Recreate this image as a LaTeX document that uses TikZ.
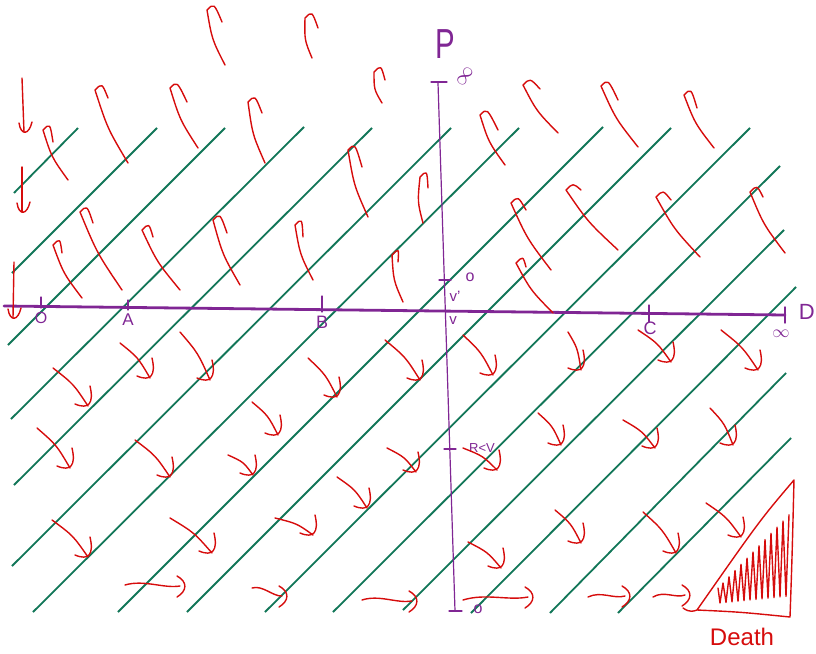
\documentclass[tikz,border=0pt]{standalone}
\usepackage{fontspec}
\setmainfont{Liberation Sans}
\usetikzlibrary{calc}
\definecolor{hred}{RGB}{214,12,12}
\definecolor{hgreen}{RGB}{18,118,88}
\definecolor{hpurp}{RGB}{128,38,148}
\newcommand\uarr[3]{\draw[arr] (#1) .. controls ($(#1)!0.5!(#2)+(-4,2)$) .. (#2) .. controls +(7,-7) .. (#3);}
\newcommand\darr[2]{\draw[arr] (#1) .. controls ($(#1)!0.5!(#2)+(3,-3)$) .. (#2);\draw[arr] ($(#2)+(2,-20)$) .. controls ($(#2)+(6,-3)$) and ($(#2)+(1,4)$) .. ($(#2)+(-13,-2)$);}
\newcommand\varr[2]{\draw[arr] (#1) -- (#2);\draw[arr] ($(#2)+(-5,-9)$) .. controls ($(#2)+(-3,4)$) and ($(#2)+(5,3)$) .. ($(#2)+(8,-10)$);}
\newcommand\harr[2]{\draw[arr] (#1) .. controls ($(#1)!0.35!(#2)+(0,-6)$) and ($(#1)!0.7!(#2)+(0,3)$) .. (#2);\draw[arr] ($(#2)+(-3,-10)$) .. controls ($(#2)+(8,-4)$) and ($(#2)+(7,5)$) .. ($(#2)+(-3,11)$);}
\begin{document}
\begin{tikzpicture}[x=1pt,y=-1pt,
  arr/.style={draw=hred,line width=1.4pt,line cap=round,line join=round},
  gl/.style={draw=hgreen,line width=1.8pt},
  ax/.style={draw=hpurp,line cap=round},
  lab/.style={text=hpurp,inner sep=0pt}]
\useasboundingbox (0,0) rectangle (816,653);
% green diagonal lines
\foreach \xa/\ya/\xb/\yb in {14/193/78/128, 12/273/157/128, 8/345/225/128, 11/419/304/127,
  14/485/372/128, 12/566/451/128, 33/612/519/128, 118/612/603/127, 187/612/671/128,
  265/612/750/128, 333/612/780/166, 403/610/784/230, 471/613/796/287, 550/613/786/373, 618/613/791/438}
  \draw[gl] (\xa,\ya) -- (\xb,\yb);
% vertical axis
\draw[ax,line width=1.2pt] (438,83) -- (455,611);
\draw[ax,line width=1.2pt] (431,82) -- (447,82);
\draw[ax,line width=1.2pt] (439,280) -- (451,280);
\draw[ax,line width=1.2pt] (444,449) -- (456,449);
\draw[ax,line width=1.2pt] (449,611) -- (462,611);
% horizontal axis
\draw[ax,line width=2.8pt] (4,306) -- (785,315);
\draw[ax,line width=1.4pt] (785,307) -- (785,323);
\draw[ax,line width=1.2pt] (41,297) -- (41,308);
\draw[ax,line width=1.2pt] (128,300) -- (128,310);
\draw[ax,line width=1.2pt] (322,296) -- (322,312);
\draw[ax,line width=1.2pt] (649,305) -- (649,322);
% labels
\node[lab,font=\fontsize{16}{16}\selectfont] at (41,318) {O};
\node[lab,font=\fontsize{17}{17}\selectfont] at (128,320) {A};
\node[lab,font=\fontsize{18}{18}\selectfont] at (322,322) {B};
\node[lab,font=\fontsize{18}{18}\selectfont] at (650,328) {C};
\node[lab,font=\fontsize{18}{18}\selectfont] at (781,334) {$\infty$};
\node[lab,font=\fontsize{22}{22}\selectfont,anchor=east] at (815,312) {D};
\node[lab,font=\fontsize{42}{42}\selectfont,xscale=0.7] at (445,44) {P};
\node[lab,font=\fontsize{20}{20}\selectfont,rotate=55] at (465,76) {$\infty$};
\node[lab,font=\fontsize{16}{16}\selectfont] at (470,277) {o};
\node[lab,font=\fontsize{15}{15}\selectfont] at (455,296) {v'};
\node[lab,font=\fontsize{15}{15}\selectfont] at (453,321) {v};
\node[lab,font=\fontsize{13}{13}\selectfont] at (482,448) {R<V};
\node[lab,font=\fontsize{16}{16}\selectfont] at (478,609) {o};
\node[text=hred,inner sep=0pt,font=\fontsize{24}{24}\selectfont] at (742,637) {Death};
% up arrows
\foreach \ta/\tb/\pa/\pb/\ha/\hb in {225/65/207/10/222/22, 312/58/305/18/318/28, 382/103/374/72/385/80,
  558/133/523/85/540/89, 638/147/601/86/618/100, 714/148/684/95/697/108, 505/165/480/115/498/130,
  423/223/420/177/428/188, 551/270/511/203/526/210, 618/250/566/190/581/190, 700/257/656/197/671/200,
  785/253/750/192/763/197, 553/313/516/263/526/267, 68/180/43/130/53/142, 128/163/95/90/108/98,
  198/148/170/88/187/102, 265/163/248/102/262/113, 368/217/348/150/362/167, 82/298/53/245/62/253,
  122/290/80/212/93/223, 180/290/142/230/153/237, 240/285/213/220/227/233, 313/280/295/225/303/237,
  403/302/392/255/398/262}
  {\uarr{\ta,\tb}{\pa,\pb}{\ha,\hb}}
% left down arrows
\varr{22,78}{24,132}
\varr{22,167}{22,212}
\varr{14,262}{13,318}
% down arrows
\foreach \sa/\sb/\ea/\eb in {53/368/88/406, 120/343/150/378, 180/332/210/380, 308/358/337/397,
  385/340/420/380, 37/428/70/468, 135/440/170/477, 252/402/278/435, 228/455/253/475,
  337/477/367/508, 387/448/416/472, 52/520/88/557, 170/518/212/553, 275/518/313/535,
  463/335/493/375, 568/332/581/370, 638/330/671/362, 721/330/758/370, 538/413/561/445,
  623/420/655/448, 710/408/733/445, 463/448/497/470, 555/510/581/543, 643/512/676/553,
  706/503/741/537, 468/542/501/568}
  {\darr{\sa,\sb}{\ea,\eb}}
% horizontal arrows
\harr{125,585}{180,586}
\harr{252,588}{282,596}
\harr{362,600}{412,601}
\harr{463,600}{528,597}
\harr{588,597}{625,596}
\harr{653,597}{685,595}
% death triangle
\draw[arr] (683,608) .. controls (690,613) and (694,611) .. (697,610)
  .. controls (740,612) .. (790,617) .. controls (792,560) .. (794,480)
  .. controls (760,520) .. (697,610);
\draw[arr] (718,588) \foreach \i in {0,...,11} { -- ({720+6*\i},{603-0.6*\i}) -- ({723+6*\i},{583-6.2*\i}) };
\end{tikzpicture}
\end{document}
